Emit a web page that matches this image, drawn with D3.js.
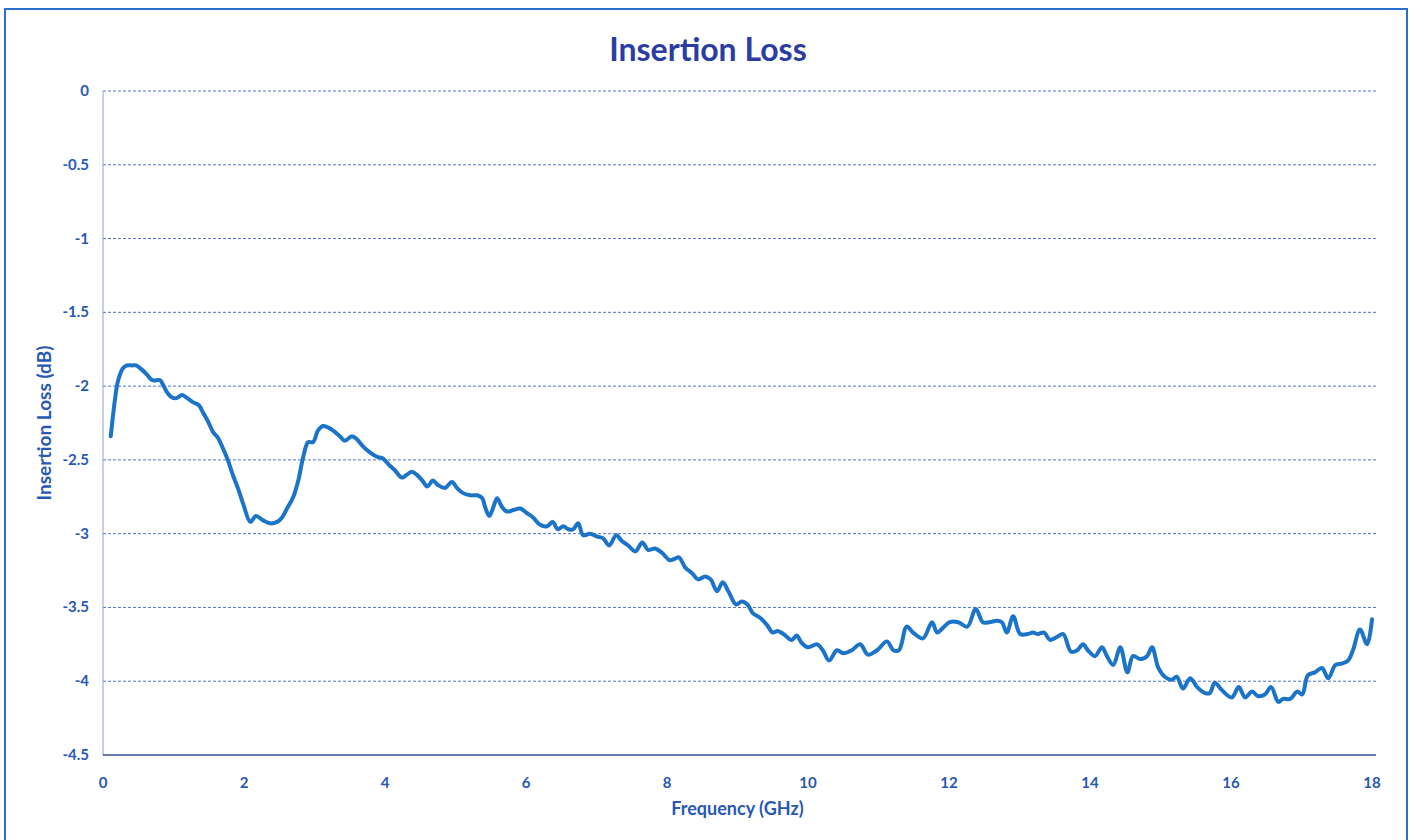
<!DOCTYPE html>
<html>
<head>
<meta charset="utf-8">
<script src="https://cdn.jsdelivr.net/npm/d3@7"></script>
<style>
  body { margin:0; background:#fff; }
  svg text { font-family: Lato, "Open Sans", sans-serif; }
</style>
</head>
<body>
<div id="chart"></div>
<script>
// data
var freqGHz = [
  0.11,0.17,0.21,0.28,0.34,0.41,0.47,0.53,0.62,0.70,0.81,0.85,0.92,0.99,1.05,1.12,1.19,1.28,1.36,1.42,
  1.49,1.56,1.63,1.70,1.77,1.84,1.92,1.99,2.09,2.17,2.27,2.37,2.47,2.54,2.61,2.70,2.77,2.84,2.91,2.98,
  3.05,3.12,3.19,3.26,3.36,3.43,3.53,3.60,3.69,3.79,3.89,
  3.97,4.07,4.14,4.24,4.31,4.38,4.45,4.53,4.60,4.68,4.75,4.85,4.95,5.02,5.09,5.21,5.31,5.38,5.42,5.48,
  5.53,5.59,5.66,5.73,5.82,5.92,6.01,6.10,6.20,6.30,6.38,6.45,6.53,6.60,6.67,6.74,6.81,6.91,7.01,7.09,
  7.18,7.28,7.36,7.45,7.55,7.65,7.73,
  7.83,7.93,8.04,8.11,8.17,8.26,8.36,8.44,8.54,8.62,8.71,8.79,8.87,8.98,9.06,9.14,9.22,9.32,9.42,9.50,
  9.57,9.65,9.77,9.84,9.91,10.00,10.13,10.21,10.30,10.41,10.50,10.62,10.74,10.85,10.98,11.12,11.21,11.29,11.40,11.49,
  11.63,11.76,11.83,11.91,12.01,12.13,12.26,12.38,12.48,12.57,12.68,12.75,12.82,12.91,13.01,13.12,13.19,13.26,13.35,13.43,
  13.53,13.62,13.73,13.82,13.90,13.97,14.07,14.17,14.24,14.33,14.43,14.53,14.61,14.71,14.81,14.88,
  14.97,15.06,15.16,15.23,15.32,15.42,15.52,15.63,15.70,15.77,15.87,16.01,16.11,16.20,16.30,16.38,16.48,16.57,16.67,16.74,
  16.84,16.94,17.01,17.09,17.19,17.29,17.38,17.48,17.57,17.66,17.73,17.83,17.93,18.00
];
var lossDb = [
  -2.34,-2.09,-1.97,-1.88,-1.86,-1.86,-1.86,-1.88,-1.92,-1.96,-1.96,-1.99,-2.05,-2.08,-2.08,-2.06,-2.08,-2.11,-2.13,-2.18,
  -2.24,-2.31,-2.35,-2.42,-2.50,-2.60,-2.70,-2.80,-2.92,-2.88,-2.91,-2.93,-2.92,-2.89,-2.83,-2.75,-2.64,-2.48,-2.38,-2.38,
  -2.30,-2.27,-2.28,-2.30,-2.34,-2.37,-2.34,-2.36,-2.41,-2.45,-2.48,
  -2.49,-2.54,-2.57,-2.62,-2.60,-2.58,-2.60,-2.64,-2.68,-2.64,-2.67,-2.69,-2.65,-2.69,-2.72,-2.74,-2.74,-2.76,-2.82,-2.88,
  -2.83,-2.76,-2.82,-2.85,-2.84,-2.83,-2.86,-2.89,-2.94,-2.95,-2.92,-2.97,-2.95,-2.97,-2.97,-2.93,-3.01,-3.00,-3.02,-3.03,
  -3.08,-3.01,-3.05,-3.08,-3.12,-3.06,-3.11,
  -3.10,-3.13,-3.18,-3.17,-3.16,-3.23,-3.27,-3.31,-3.29,-3.31,-3.39,-3.33,-3.39,-3.48,-3.46,-3.48,-3.54,-3.57,-3.62,-3.67,
  -3.66,-3.68,-3.72,-3.69,-3.74,-3.77,-3.75,-3.79,-3.86,-3.79,-3.81,-3.79,-3.75,-3.82,-3.79,-3.73,-3.79,-3.79,-3.63,-3.67,
  -3.71,-3.60,-3.67,-3.64,-3.60,-3.60,-3.63,-3.51,-3.60,-3.60,-3.59,-3.60,-3.67,-3.56,-3.68,-3.68,-3.67,-3.68,-3.67,-3.72,
  -3.70,-3.68,-3.80,-3.79,-3.75,-3.79,-3.83,-3.77,-3.83,-3.89,-3.77,-3.94,-3.83,-3.85,-3.83,-3.77,
  -3.91,-3.97,-3.99,-3.97,-4.05,-3.98,-4.04,-4.08,-4.08,-4.01,-4.06,-4.11,-4.04,-4.11,-4.07,-4.10,-4.09,-4.04,-4.14,-4.12,
  -4.12,-4.07,-4.09,-3.96,-3.94,-3.91,-3.98,-3.89,-3.88,-3.86,-3.79,-3.65,-3.75,-3.58
];
var xTicks = [0,2,4,6,8,10,12,14,16,18];
var yTicks = [0,-0.5,-1,-1.5,-2,-2.5,-3,-3.5,-4,-4.5];

var width = 1414, height = 840;
var margin = {top: 91, right: 41, bottom: 85, left: 103};

var svg = d3.select("#chart").append("svg")
    .attr("width", width).attr("height", height);

// outer frame
svg.append("rect")
    .attr("x", 5).attr("y", 9)
    .attr("width", 1402).attr("height", 840)
    .attr("fill", "none")
    .attr("stroke", "#2c6fd1")
    .attr("stroke-width", 2);

var x = d3.scaleLinear().domain([0, 18]).range([margin.left, margin.left + 70.5 * 18]);
var y = d3.scaleLinear().domain([0, -4.5]).range([margin.top, height - margin.bottom]);

// gridlines
svg.append("g").selectAll("line").data(yTicks.filter(function(d){ return d > -4.5; }))
    .enter().append("line")
    .attr("x1", x(0)).attr("x2", x(18) + 4)
    .attr("y1", function(d){ return y(d); })
    .attr("y2", function(d){ return y(d); })
    .attr("stroke", "#4f72cc")
    .attr("stroke-width", 1)
    .attr("stroke-dasharray", "3,2");

// left axis line
svg.append("line")
    .attr("x1", x(0)).attr("x2", x(0))
    .attr("y1", y(0)).attr("y2", y(-4.5))
    .attr("stroke", "#8fa0c8").attr("stroke-width", 1);

// bottom axis line
svg.append("line")
    .attr("x1", x(0)).attr("x2", x(18) + 4)
    .attr("y1", y(-4.5)).attr("y2", y(-4.5))
    .attr("stroke", "#3a4b8c").attr("stroke-width", 1.5);

// tick labels
svg.append("g").selectAll("text").data(yTicks)
    .enter().append("text")
    .attr("x", 89)
    .attr("y", function(d){ return y(d) + 5; })
    .attr("text-anchor", "end")
    .attr("font-size", 15).attr("font-weight", "bold")
    .attr("fill", "#2858b6")
    .text(function(d){ return d; });

svg.append("g").selectAll("text").data(xTicks)
    .enter().append("text")
    .attr("x", function(d){ return x(d); })
    .attr("y", 788)
    .attr("text-anchor", "middle")
    .attr("font-size", 15).attr("font-weight", "bold")
    .attr("fill", "#2858b6")
    .text(function(d){ return d; });

// titles
svg.append("text")
    .attr("x", 708).attr("y", 61)
    .attr("text-anchor", "middle")
    .attr("font-size", 32).attr("font-weight", "bold")
    .attr("fill", "#2b3da3")
    .text("Insertion Loss");

svg.append("text")
    .attr("x", (x(0) + x(18)) / 2).attr("y", 815)
    .attr("text-anchor", "middle")
    .attr("font-size", 18).attr("font-weight", "bold")
    .attr("fill", "#2858b6")
    .text("Frequency (GHz)");

svg.append("text")
    .attr("transform", "translate(51," + (y(0) + y(-4.5)) / 2 + ") rotate(-90)")
    .attr("text-anchor", "middle")
    .attr("font-size", 19).attr("font-weight", "bold")
    .attr("fill", "#2858b6")
    .text("Insertion Loss (dB)");

// the curve
var pts = freqGHz.map(function(f, i){ return [f, lossDb[i]]; });
var line = d3.line()
    .x(function(d){ return x(d[0]); })
    .y(function(d){ return y(d[1]); })
    .curve(d3.curveCatmullRom.alpha(0.5));

svg.append("path")
    .datum(pts)
    .attr("d", line)
    .attr("fill", "none")
    .attr("stroke", "#1b74c8")
    .attr("stroke-width", 4)
    .attr("stroke-linejoin", "round")
    .attr("stroke-linecap", "round");
</script>
</body>
</html>
